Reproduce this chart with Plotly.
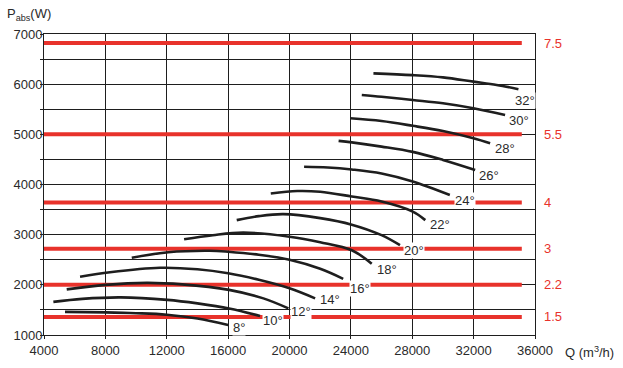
import plotly.graph_objects as go

# ---- data ----
x_ticks = [4000, 8000, 12000, 16000, 20000, 24000, 28000, 32000, 36000]
x_ticktext = ["4000", "8000", "12000", "16000", "20000", "24000", "28000", "32000", "36000"]
y_ticks = [1000, 2000, 3000, 4000, 5000, 6000, 7000]
y_ticktext = ["1000", "2000", "3000", "4000", "5000", "6000", "7000"]

# motor power lines (kW) and their absorbed-power level
motor_labels = ["7.5", "5.5", "4", "3", "2.2", "1.5"]
motor_power = [6820, 5000, 3640, 2720, 2000, 1360]
motor_q_start = 4000
motor_q_end = 35140

# blade-angle curves
curve_labels = ["8°", "10°", "12°", "14°", "16°", "18°", "20°", "22°", "24°", "26°", "28°", "30°", "32°"]
q_8 = [5370, 8000, 10000, 12000, 14000, 16000]
p_8 = [1460, 1450, 1435, 1405, 1330, 1200]
q_10 = [4610, 6500, 9000, 12040, 14000, 16060, 18080]
p_10 = [1660, 1720, 1750, 1700, 1630, 1530, 1380]
q_12 = [5480, 8000, 10700, 13000, 16060, 18300, 19930]
p_12 = [1910, 2000, 2040, 2010, 1900, 1730, 1530]
q_14 = [6350, 8300, 11560, 14000, 16000, 18000, 20000, 21670]
p_14 = [2160, 2250, 2340, 2310, 2230, 2100, 1930, 1730]
q_16 = [9720, 12100, 14800, 16000, 18000, 20000, 22000, 23500]
p_16 = [2540, 2650, 2680, 2660, 2600, 2500, 2320, 2120]
q_18 = [13130, 15000, 17000, 20000, 22000, 24060, 25360]
p_18 = [2910, 2990, 3040, 2960, 2850, 2690, 2420]
q_20 = [16560, 18000, 19600, 22000, 24060, 26000, 27200]
p_20 = [3290, 3370, 3410, 3330, 3200, 2990, 2790]
q_22 = [18780, 20500, 22000, 24060, 26000, 28030, 28850]
p_22 = [3820, 3870, 3855, 3760, 3660, 3460, 3290]
q_24 = [20950, 22500, 24060, 26000, 28030, 30450]
p_24 = [4355, 4340, 4300, 4220, 4060, 3790]
q_26 = [23200, 24060, 26000, 28030, 30000, 32100]
p_26 = [4870, 4840, 4755, 4650, 4490, 4290]
q_28 = [23950, 26000, 28030, 30000, 31990, 33075]
p_28 = [5320, 5265, 5170, 5065, 4920, 4820]
q_30 = [24710, 26000, 28030, 30000, 31990, 34050]
p_30 = [5785, 5750, 5685, 5620, 5520, 5385]
q_32 = [25470, 28030, 30000, 31990, 33500, 34920]
p_32 = [6215, 6180, 6135, 6050, 5985, 5900]

curve_q = [q_8, q_10, q_12, q_14, q_16, q_18, q_20, q_22, q_24, q_26, q_28, q_30, q_32]
curve_p = [p_8, p_10, p_12, p_14, p_16, p_18, p_20, p_22, p_24, p_26, p_28, p_30, p_32]

label_q = [16710, 18950, 20730, 22640, 24600, 26340, 28140, 29815, 31450, 33030, 34050, 34985, 35360]
label_p = [1140, 1299, 1470, 1700, 1931, 2296, 2694, 3212, 3677, 4189, 4713, 5279, 5684]

RED = "#e8322b"
INK = "#1e1e1e"
TXT = "#2a2a2a"
FONT = "Liberation Sans, Arial, sans-serif"

fig = go.Figure()

for v in motor_power:
    fig.add_trace(go.Scatter(x=[motor_q_start, motor_q_end], y=[v, v], mode="lines",
                             line=dict(color=RED, width=4), hoverinfo="skip"))

for qs, ps in zip(curve_q, curve_p):
    fig.add_trace(go.Scatter(x=qs, y=ps, mode="lines",
                             line=dict(color=INK, width=2.6, shape="spline", smoothing=1.0),
                             hoverinfo="skip"))

annotations = []
for t, q, p in zip(curve_labels, label_q, label_p):
    annotations.append(dict(x=q, y=p, xref="x", yref="y", text=t, showarrow=False,
                            bgcolor="white", borderpad=0,
                            font=dict(family=FONT, size=13, color=TXT)))

for t, v in zip(motor_labels, motor_power):
    annotations.append(dict(x=1, y=v, xref="paper", yref="y", text=t, showarrow=False,
                            xanchor="left", yanchor="middle", xshift=7,
                            font=dict(family=FONT, size=13, color=RED)))

annotations.append(dict(x=0, y=1, xref="paper", yref="paper", text="P<sub>abs</sub>(W)",
                        showarrow=False, xanchor="left", yanchor="middle", xshift=-39, yshift=20,
                        font=dict(family=FONT, size=13, color=TXT)))
annotations.append(dict(x=1, y=0, xref="paper", yref="paper", text="Q (m<sup>3</sup>/h)",
                        showarrow=False, xanchor="left", yanchor="middle", xshift=28, yshift=-17,
                        font=dict(family=FONT, size=13, color=TXT)))

fig.update_layout(
    width=623, height=368,
    margin=dict(l=44, r=88, t=34, b=33, autoexpand=False),
    plot_bgcolor="white", paper_bgcolor="white",
    showlegend=False,
    hovermode=False,
    font=dict(family=FONT, size=13, color=TXT),
    annotations=annotations,
    xaxis=dict(range=[4000, 36000], tickmode="array", tickvals=x_ticks, ticktext=x_ticktext,
               automargin=False,
               showgrid=True, gridcolor=INK, gridwidth=1,
               showline=True, linecolor=INK, linewidth=1, mirror=True,
               ticks="outside", ticklen=3, tickcolor=INK, zeroline=False,
               tickfont=dict(family=FONT, size=13, color=TXT)),
    yaxis=dict(range=[1000, 7000], tickmode="array", tickvals=y_ticks, ticktext=y_ticktext,
               automargin=False,
               showgrid=True, gridcolor=INK, gridwidth=1,
               showline=True, linecolor=INK, linewidth=1, mirror=True,
               ticks="outside", ticklen=3, tickcolor=INK, zeroline=False,
               ticklabelstandoff=-5,
               minor=dict(dtick=500, tick0=1000, ticks="outside", ticklen=3, tickcolor=INK,
                          showgrid=True, gridcolor=INK, gridwidth=1),
               tickfont=dict(family=FONT, size=13, color=TXT)),
)

fig.write_html("out.html",
               config={"displayModeBar": False, "staticPlot": True},
               post_script="document.body.style.margin='0';document.body.style.padding='0';"
                           "document.body.style.overflow='hidden';")
